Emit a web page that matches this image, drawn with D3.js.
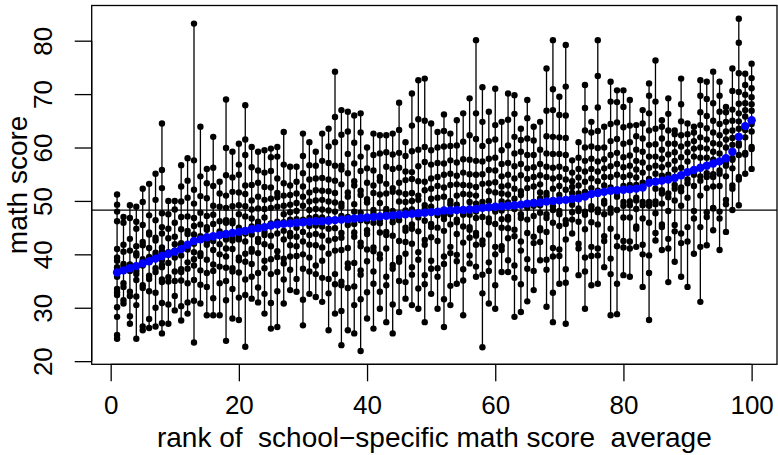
<!DOCTYPE html>
<html>
<head>
<meta charset="utf-8">
<script src="https://cdn.jsdelivr.net/npm/d3@7/dist/d3.min.js"></script>
<style>
  html, body { margin: 0; padding: 0; background: #fff; }
  svg { display: block; font-family: "Liberation Sans", Arial, Helvetica, sans-serif; }
  .lab { white-space: pre; }
</style>
</head>
<body>
<svg id="chart" width="778" height="455"></svg>
<script>
// School-specific sample means, ordered by rank (1 = lowest average)
const schoolMeans = [
  36.6, 37.0, 37.4, 37.8, 38.3, 38.7, 39.2, 39.7, 40.1, 40.5,
  41.0, 41.8, 42.5, 42.8, 43.2, 43.4, 43.6, 43.8, 44.0, 44.2,
  44.4, 44.7, 44.9, 45.1, 45.4, 45.6, 45.7, 45.8, 45.9, 46.0,
  46.1, 46.2, 46.2, 46.3, 46.4, 46.5, 46.6, 46.7, 46.8, 46.9,
  47.0, 47.1, 47.2, 47.3, 47.4, 47.5, 47.6, 47.7, 47.8, 47.9,
  48.0, 48.2, 48.2, 48.3, 48.3, 48.4, 48.5, 48.7, 48.8, 48.9,
  49.0, 49.1, 49.2, 49.3, 49.5, 49.6, 49.7, 49.9, 50.0, 50.1,
  50.2, 50.4, 50.5, 50.8, 51.3, 51.5, 51.7, 51.9, 52.0, 52.1,
  52.2, 52.3, 52.5, 53.4, 53.6, 53.8, 54.0, 54.3, 54.8, 55.4,
  55.8, 56.2, 56.6, 57.0, 57.4, 58.0, 59.2, 62.0, 64.0, 65.1
];

// Student math scores within each school, same rank order as schoolMeans
const studentScores = [
  [24.2, 24.9, 28.3, 30.1, 32.4, 32.9, 33.5, 35.8, 36.4, 37.1, 37.6, 38.8, 39.4, 41.0, 46.2, 48.0, 49.3, 51.2],
  [30.8, 31.4, 33.9, 34.6, 37.8, 38.2, 40.5, 41.8, 45.9, 47.0],
  [27.0, 28.4, 32.2, 33.0, 36.9, 37.5, 38.1, 40.7, 42.9, 46.8, 49.2],
  [24.2, 30.5, 32.1, 35.2, 36.3, 36.9, 39.8, 40.2, 41.5, 44.8, 46.1, 48.9],
  [25.8, 26.5, 33.7, 34.2, 37.9, 38.6, 39.1, 41.7, 42.3, 45.5, 49.8, 52.3],
  [26.2, 27.9, 33.1, 35.4, 36.0, 38.9, 39.5, 41.2, 43.7, 44.1, 47.3, 53.2],
  [26.5, 30.0, 32.8, 36.7, 37.4, 39.8, 40.3, 42.6, 43.1, 46.4, 50.2, 55.1],
  [25.2, 27.1, 30.9, 34.8, 35.3, 37.6, 38.0, 38.9, 40.6, 41.3, 43.9, 45.1, 47.7, 52.4, 55.8, 64.5],
  [27.0, 30.6, 34.9, 35.7, 38.4, 39.9, 40.4, 43.0, 44.8, 47.5, 50.0],
  [29.5, 32.2, 35.0, 36.8, 39.4, 40.7, 41.9, 43.3, 45.9, 48.4, 50.0],
  [27.6, 30.3, 35.1, 36.7, 37.2, 39.8, 41.6, 42.1, 44.7, 47.0, 49.9, 52.7, 56.7],
  [28.9, 31.0, 34.6, 37.3, 38.5, 40.9, 41.4, 43.8, 44.4, 47.1, 50.6, 53.8, 58.0],
  [23.5, 31.3, 35.2, 37.9, 39.1, 40.4, 42.0, 43.7, 45.3, 46.8, 49.5, 52.1, 57.6, 83.2],
  [30.8, 34.3, 37.0, 39.7, 40.2, 42.9, 43.4, 45.6, 47.8, 50.9, 54.6, 63.9],
  [28.6, 33.9, 36.5, 39.0, 41.8, 42.4, 44.6, 45.1, 47.2, 50.5, 53.3, 56.0],
  [28.6, 31.8, 36.9, 38.1, 40.8, 42.5, 43.0, 45.7, 47.4, 49.1, 52.8, 56.2, 62.0],
  [28.6, 34.6, 37.7, 40.0, 41.9, 43.5, 44.3, 46.2, 48.9, 51.4, 53.6],
  [23.8, 31.4, 35.0, 37.5, 39.6, 41.1, 42.8, 43.2, 45.9, 46.4, 48.7, 51.0, 54.8, 59.9, 69.0],
  [28.0, 33.5, 36.8, 37.4, 41.0, 42.6, 43.1, 45.8, 46.3, 49.0, 51.7, 54.4, 59.2],
  [27.7, 31.9, 36.6, 38.9, 39.4, 42.8, 43.3, 45.0, 47.5, 49.2, 51.6, 54.9, 56.8, 60.7],
  [22.7, 32.4, 35.3, 38.6, 40.1, 42.4, 43.9, 44.4, 47.1, 49.0, 51.3, 52.9, 58.6, 61.5, 67.9],
  [31.7, 35.8, 38.2, 40.5, 41.0, 43.7, 45.2, 46.7, 48.4, 50.1, 53.0, 56.3, 60.1],
  [31.0, 33.8, 36.5, 40.2, 42.3, 42.9, 45.6, 46.1, 48.6, 50.8, 53.4, 55.7, 59.2],
  [28.9, 32.6, 37.4, 38.8, 41.9, 43.6, 44.2, 46.9, 48.5, 50.2, 52.6, 55.3, 59.5],
  [26.1, 30.9, 36.3, 39.1, 41.5, 43.5, 45.3, 45.8, 48.7, 50.4, 52.5, 55.6, 58.2, 59.8],
  [26.4, 33.1, 36.7, 39.5, 40.6, 43.9, 45.6, 46.1, 48.9, 50.7, 51.5, 54.2, 58.3, 60.1],
  [30.8, 35.3, 38.3, 39.2, 42.8, 44.4, 46.0, 47.5, 49.1, 51.0, 53.3, 56.8, 62.9],
  [33.3, 37.1, 39.6, 41.7, 43.4, 44.0, 46.5, 47.9, 49.3, 51.1, 52.9, 56.4],
  [33.0, 35.4, 39.7, 41.5, 43.3, 45.0, 46.6, 48.1, 49.6, 51.4, 53.6, 56.4],
  [26.7, 31.5, 37.3, 40.0, 42.4, 44.2, 46.0, 46.5, 49.1, 50.8, 52.7, 55.2, 58.4, 62.6],
  [32.6, 36.8, 39.4, 41.8, 43.6, 45.3, 46.8, 48.3, 49.9, 51.6, 54.0, 56.7, 61.0],
  [32.0, 36.3, 37.9, 41.7, 43.8, 45.4, 47.0, 48.5, 50.1, 52.0, 54.2, 56.6, 59.2],
  [31.1, 35.6, 38.8, 41.3, 43.5, 45.2, 46.9, 48.4, 50.2, 51.9, 54.3, 57.5, 62.6],
  [25.8, 32.7, 35.4, 40.1, 42.6, 44.8, 46.6, 48.2, 49.9, 51.8, 54.0, 57.1, 60.2, 63.5],
  [28.9, 34.4, 36.3, 40.7, 42.9, 44.9, 46.5, 48.0, 49.7, 51.5, 53.8, 56.6, 61.0, 65.7, 74.2],
  [23.0, 29.4, 34.2, 34.9, 40.8, 43.1, 44.0, 47.2, 48.9, 49.5, 53.1, 55.9, 56.6, 62.4, 67.0],
  [25.8, 33.7, 37.5, 38.3, 41.2, 45.5, 46.3, 47.0, 50.8, 51.6, 55.2, 58.8, 63.0, 66.7],
  [25.2, 30.5, 34.0, 38.4, 43.3, 44.1, 45.7, 48.0, 49.4, 52.9, 53.7, 57.0, 60.9, 66.0],
  [21.9, 31.6, 36.2, 37.0, 41.5, 42.2, 46.4, 47.8, 51.1, 51.9, 55.6, 58.3, 62.8, 66.4],
  [28.0, 32.9, 38.7, 40.9, 43.8, 44.5, 46.2, 49.7, 50.3, 53.4, 56.1, 60.0],
  [26.1, 34.5, 36.8, 40.6, 41.3, 45.9, 47.7, 48.3, 51.5, 52.9, 55.7, 58.6, 62.6],
  [29.8, 33.0, 39.2, 40.0, 44.1, 45.8, 46.4, 49.6, 51.2, 53.8, 54.5, 58.9, 62.3],
  [27.3, 34.2, 35.8, 41.1, 43.6, 44.2, 47.9, 48.5, 51.4, 53.2, 56.4, 59.1, 62.3],
  [25.2, 30.6, 37.3, 38.0, 43.5, 46.0, 46.8, 48.1, 51.7, 52.4, 56.0, 58.7, 62.6],
  [29.2, 35.0, 38.6, 39.3, 42.5, 46.4, 47.1, 49.9, 51.6, 53.4, 56.2, 59.0, 63.3, 68.4],
  [31.7, 34.8, 40.1, 42.3, 44.4, 45.0, 48.2, 49.8, 51.3, 53.9, 55.5, 58.4, 61.0],
  [30.5, 36.2, 37.6, 42.0, 44.8, 45.6, 48.4, 50.0, 51.5, 54.1, 55.4, 59.3, 64.1, 70.1],
  [29.8, 33.6, 39.0, 40.4, 44.3, 46.9, 47.6, 50.2, 51.0, 53.7, 56.5, 59.6, 65.3, 72.6],
  [27.3, 34.4, 36.1, 41.8, 42.7, 46.3, 48.5, 49.2, 52.0, 53.6, 57.3, 60.1, 65.0, 72.9],
  [32.6, 37.3, 38.8, 43.2, 45.1, 45.7, 48.9, 50.4, 52.3, 54.2, 56.8, 59.5, 64.5],
  [29.8, 35.8, 37.4, 42.5, 45.0, 47.3, 47.9, 50.6, 52.8, 54.5, 57.1, 60.0, 62.9],
  [26.4, 31.6, 38.2, 39.6, 44.4, 46.6, 47.3, 50.8, 52.5, 54.9, 57.0, 60.2, 63.1, 66.2],
  [30.5, 34.1, 40.2, 41.4, 45.6, 47.5, 49.4, 50.0, 53.0, 55.1, 57.6, 60.3, 62.6],
  [34.5, 38.7, 39.9, 43.8, 46.0, 46.5, 49.3, 51.0, 53.1, 54.7, 57.2, 60.4, 65.1],
  [28.6, 35.1, 37.2, 42.2, 45.2, 47.4, 47.9, 51.3, 53.0, 55.3, 57.8, 61.1, 66.4],
  [38.3, 39.8, 43.1, 44.6, 45.1, 47.4, 48.6, 49.8, 51.2, 52.9, 55.0, 57.7, 62.3, 69.2],
  [35.8, 37.7, 41.8, 43.5, 44.0, 46.8, 48.0, 49.5, 51.0, 52.6, 54.9, 57.5, 61.6, 66.4, 80.1],
  [22.6, 32.7, 36.2, 41.9, 42.6, 47.0, 49.1, 49.8, 53.2, 55.0, 57.4, 60.3, 64.8, 71.3],
  [30.8, 36.9, 38.5, 43.7, 46.0, 46.7, 50.0, 51.8, 53.3, 55.8, 57.9, 61.2, 66.7],
  [29.8, 34.2, 40.0, 41.4, 45.7, 48.0, 48.6, 51.6, 53.5, 55.7, 58.1, 61.5, 64.2, 71.0],
  [36.7, 40.8, 41.5, 45.0, 46.6, 48.2, 49.9, 51.4, 52.7, 54.6, 56.9, 59.5, 64.8],
  [36.7, 38.9, 43.0, 44.9, 46.5, 47.0, 49.7, 51.2, 52.9, 54.9, 57.1, 60.4, 65.2, 70.1],
  [28.3, 35.6, 37.9, 43.4, 44.6, 48.5, 50.4, 52.3, 54.2, 56.5, 58.9, 62.0, 66.3, 69.8],
  [29.2, 34.4, 40.7, 42.4, 46.8, 47.5, 51.1, 51.8, 54.8, 56.9, 59.2, 61.4, 63.5],
  [31.2, 37.3, 39.1, 44.0, 46.5, 48.7, 49.3, 52.4, 54.1, 56.1, 58.6, 61.7, 65.5, 68.9],
  [33.3, 36.9, 42.1, 43.3, 47.2, 49.1, 49.8, 52.7, 54.5, 56.3, 58.6, 61.3, 63.9],
  [38.9, 42.3, 44.5, 44.9, 47.8, 49.2, 50.5, 51.6, 53.1, 54.8, 56.9, 59.6, 64.8],
  [30.2, 37.1, 39.0, 44.2, 46.8, 47.5, 50.9, 51.5, 54.5, 56.4, 58.9, 62.1, 66.9, 74.8],
  [27.3, 32.8, 39.6, 41.2, 45.9, 48.3, 49.0, 52.3, 54.2, 56.2, 58.8, 62.0, 67.0, 70.9, 80.1],
  [34.5, 39.7, 40.9, 45.3, 47.5, 48.1, 51.1, 52.8, 54.5, 56.4, 58.8, 61.9, 66.1, 69.5],
  [27.0, 34.7, 37.2, 42.8, 45.7, 46.4, 50.2, 52.1, 54.0, 56.0, 58.6, 61.8, 66.0, 71.4, 79.2],
  [43.9, 46.5, 47.9, 49.3, 50.1, 51.5, 52.6, 53.7, 55.3, 57.6],
  [36.1, 41.1, 42.0, 46.1, 48.1, 48.6, 51.4, 52.9, 54.4, 56.0, 58.1, 61.0],
  [29.8, 36.8, 39.4, 44.7, 47.4, 48.0, 51.7, 53.6, 55.5, 57.5, 60.0, 63.2, 67.4, 71.7],
  [34.2, 39.7, 41.4, 46.0, 48.4, 49.0, 52.4, 54.2, 56.0, 57.9, 60.2, 62.8, 64.8],
  [34.5, 39.8, 41.1, 45.6, 47.9, 48.4, 51.9, 53.7, 55.5, 57.4, 59.9, 63.1, 67.5, 73.4, 80.1],
  [37.6, 42.5, 43.4, 47.5, 49.5, 50.0, 52.9, 54.5, 56.1, 57.8, 60.0, 63.9],
  [28.6, 36.3, 39.2, 44.8, 47.8, 48.6, 52.5, 54.5, 56.5, 58.6, 61.2, 64.4, 68.6, 72.3],
  [28.8, 34.5, 41.5, 43.3, 48.3, 50.8, 51.5, 54.9, 56.9, 59.0, 61.6, 64.7, 68.5, 70.7],
  [36.1, 41.3, 42.5, 46.9, 49.1, 49.8, 52.8, 54.5, 56.3, 58.2, 60.7, 63.8, 67.6, 70.7],
  [35.8, 41.1, 42.4, 46.9, 49.2, 49.9, 53.0, 54.8, 56.6, 58.5, 61.0, 64.1, 68.9],
  [41.4, 44.8, 45.2, 48.5, 50.1, 50.6, 53.0, 54.4, 55.9, 57.5, 59.6, 62.1, 64.2],
  [33.9, 40.0, 41.8, 46.7, 49.2, 49.8, 53.4, 55.3, 57.2, 59.2, 61.7, 64.5, 67.0],
  [27.7, 36.5, 39.8, 45.9, 49.1, 49.8, 54.1, 56.2, 58.3, 60.5, 63.2, 66.4, 69.7, 72.0],
  [42.6, 44.0, 47.7, 49.4, 49.9, 52.3, 53.7, 55.1, 56.6, 58.3, 60.6, 63.5, 68.6, 76.3],
  [40.8, 45.1, 45.6, 49.5, 51.4, 52.0, 54.7, 56.3, 57.9, 59.6, 61.7, 63.9, 65.1],
  [34.8, 41.1, 42.9, 48.1, 50.7, 51.4, 54.9, 56.8, 58.7, 60.7, 63.2, 66.3, 69.2],
  [38.6, 44.3, 45.5, 50.1, 52.3, 53.0, 55.9, 57.5, 59.1, 60.7, 62.5, 63.2],
  [35.8, 42.1, 43.9, 49.1, 51.8, 52.5, 56.2, 58.2, 60.2, 62.3, 64.9, 68.1, 72.9],
  [33.9, 42.4, 45.1, 50.6, 53.3, 54.0, 57.4, 59.1, 60.7, 62.5, 64.5],
  [40.1, 46.7, 48.1, 52.8, 54.9, 55.6, 58.3, 59.8, 61.2, 62.8, 63.9],
  [31.1, 41.4, 45.1, 51.0, 53.8, 54.6, 58.1, 60.0, 61.9, 64.2, 66.6, 69.7, 72.6],
  [41.7, 47.0, 47.9, 52.4, 54.5, 55.2, 58.1, 59.8, 61.5, 63.6, 65.9, 69.1, 72.3],
  [44.5, 48.6, 48.7, 52.7, 54.5, 55.0, 57.7, 59.2, 60.8, 62.8, 65.0, 68.3, 74.2],
  [40.8, 46.7, 48.0, 52.8, 55.1, 55.7, 58.9, 60.6, 62.3, 64.4, 66.7, 69.7, 72.3],
  [44.2, 49.4, 50.2, 54.6, 56.6, 57.1, 60.0, 61.5, 63.0, 64.8, 66.6, 67.6],
  [48.3, 52.3, 52.9, 56.1, 57.7, 58.0, 60.5, 61.8, 63.2, 65.0, 67.1, 70.6, 74.8],
  [49.2, 54.0, 54.5, 58.6, 60.4, 60.8, 63.5, 64.9, 66.4, 68.2, 70.4, 73.9, 79.6, 84.1],
  [55.1, 58.7, 59.0, 61.9, 63.3, 63.8, 65.8, 67.0, 68.3, 69.9, 71.7, 73.8],
  [56.0, 59.7, 60.1, 63.0, 64.4, 64.9, 66.9, 68.1, 69.4, 71.1, 73.0, 75.7]
];

const xTicks = [0, 20, 40, 60, 80, 100];
const yTicks = [20, 30, 40, 50, 60, 70, 80];
const xLabel = "rank of  school\u2212specific math score  average";
const yLabel = "math score";

const svg = d3.select("#chart");
const plot = { left: 91.7, right: 777, top: 5.5, bottom: 364.3 };
const tickFont = 26;
const titleFont = 28;

// Ranks run 1..m; both axes padded by 4% as in base graphics
const m = schoolMeans.length;
const allScores = studentScores.flat();
const yExt = d3.extent(allScores);
const xPad = (m - 1) * 0.04, yPad = (yExt[1] - yExt[0]) * 0.04;

const x = d3.scaleLinear().domain([1 - xPad, m + xPad]).range([plot.left, plot.right]);
const y = d3.scaleLinear().domain([yExt[0] - yPad, yExt[1] + yPad]).range([plot.bottom, plot.top]);

const g = svg.append("g");

// Within-school ranges and student scores
studentScores.forEach((scores, i) => {
  const r = i + 1;
  const [lo, hi] = d3.extent(scores);
  g.append("line")
    .attr("x1", x(r)).attr("x2", x(r))
    .attr("y1", y(lo)).attr("y2", y(hi))
    .attr("stroke", "#000").attr("stroke-width", 1.3);
  g.selectAll(null).data(scores).enter().append("circle")
    .attr("cx", x(r)).attr("cy", d => y(d))
    .attr("r", 3.2).attr("fill", "#000");
});

// Overall average of the school means
const grandMean = d3.mean(schoolMeans);
g.append("line")
  .attr("x1", plot.left).attr("x2", plot.right)
  .attr("y1", y(grandMean)).attr("y2", y(grandMean))
  .attr("stroke", "#000").attr("stroke-width", 1.3);

// School means
g.selectAll(".mean").data(schoolMeans).enter().append("circle")
  .attr("class", "mean")
  .attr("cx", (d, i) => x(i + 1)).attr("cy", d => y(d))
  .attr("r", 4.2).attr("fill", "#0000ff");

// Plot frame
svg.append("rect")
  .attr("x", plot.left).attr("y", plot.top)
  .attr("width", plot.right - plot.left).attr("height", plot.bottom - plot.top)
  .attr("fill", "none").attr("stroke", "#000").attr("stroke-width", 1.3);

// Bottom axis
const xAxis = svg.append("g").attr("transform", `translate(0,${plot.bottom})`)
  .call(d3.axisBottom(x).tickValues(xTicks).tickSize(17).tickPadding(14).tickFormat(d3.format("d")));
xAxis.select(".domain").remove();
xAxis.append("line")
  .attr("x1", x(xTicks[0])).attr("x2", x(xTicks[xTicks.length - 1]))
  .attr("stroke", "#000").attr("stroke-width", 1.3);
xAxis.selectAll(".tick line").attr("stroke-width", 1.3);
xAxis.selectAll(".tick text").attr("font-size", tickFont).attr("fill", "#000")
  .attr("font-family", "Liberation Sans, Arial, sans-serif");

// Left axis with vertical tick labels
const yAxis = svg.append("g").attr("transform", `translate(${plot.left},0)`)
  .call(d3.axisLeft(y).tickValues(yTicks).tickSize(17).tickFormat(d3.format("d")));
yAxis.select(".domain").remove();
yAxis.append("line")
  .attr("y1", y(yTicks[0])).attr("y2", y(yTicks[yTicks.length - 1]))
  .attr("stroke", "#000").attr("stroke-width", 1.3);
yAxis.selectAll(".tick line").attr("stroke-width", 1.3);
yAxis.selectAll(".tick text")
  .attr("x", null).attr("dy", null)
  .attr("text-anchor", "middle")
  .attr("transform", "translate(-49,0) rotate(-90)")
  .attr("dominant-baseline", "central")
  .attr("font-size", tickFont).attr("fill", "#000")
  .attr("font-family", "Liberation Sans, Arial, sans-serif");

// Axis titles
svg.append("text").attr("class", "lab")
  .attr("x", (plot.left + plot.right) / 2).attr("y", 437)
  .attr("text-anchor", "middle").attr("dominant-baseline", "central")
  .attr("font-size", titleFont).text(xLabel);
svg.append("text").attr("class", "lab")
  .attr("transform", `translate(17,${(plot.top + plot.bottom) / 2}) rotate(-90)`)
  .attr("text-anchor", "middle").attr("dominant-baseline", "central")
  .attr("font-size", titleFont).text(yLabel);
</script>
</body>
</html>
